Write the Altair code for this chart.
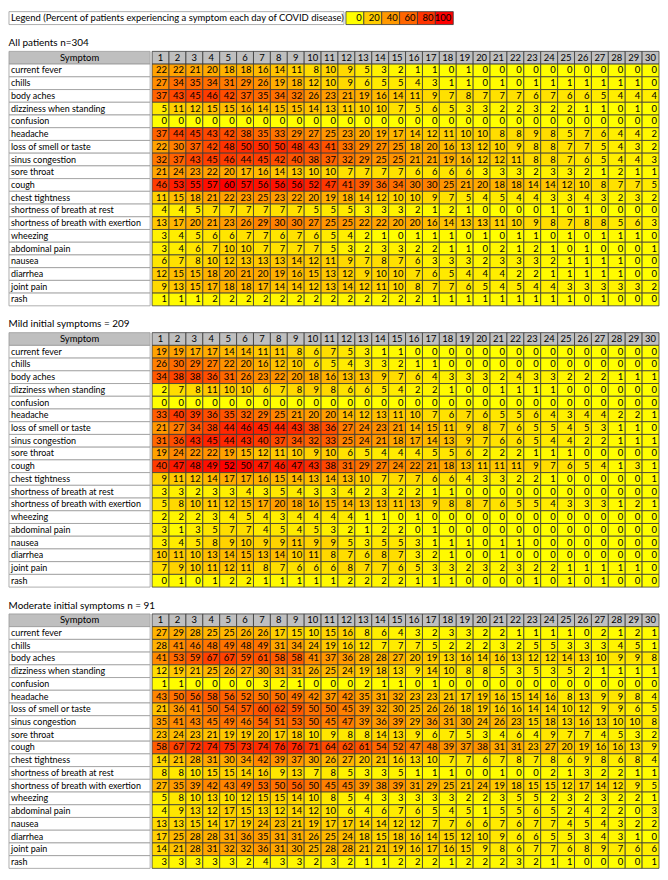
import altair as alt
import pandas as pd

legend_text = "Legend (Percent of patients experiencing a symptom each day of COVID disease)"
legend_steps = [0, 20, 40, 60, 80, 100]
panel_titles = ["All patients n=304", "Mild initial symptoms = 209", "Moderate initial symptoms n = 91"]
header_label = "Symptom"
days = list(range(1, 31))
symptoms = [
    "current fever", "chills", "body aches", "dizziness when standing", "confusion",
    "headache", "loss of smell or taste", "sinus congestion", "sore throat", "cough",
    "chest tightness", "shortness of breath at rest", "shortness of breath with exertion",
    "wheezing", "abdominal pain", "nausea", "diarrhea", "joint pain", "rash",
]

all_patients = [
    [22, 22, 21, 20, 18, 18, 16, 14, 11, 8, 10, 9, 5, 3, 2, 1, 1, 0, 1, 0, 0, 0, 0, 0, 0, 0, 0, 0, 0, 0],
    [27, 34, 35, 34, 31, 29, 26, 19, 18, 12, 10, 9, 6, 5, 5, 4, 3, 1, 1, 0, 1, 0, 1, 1, 1, 1, 1, 1, 1, 0],
    [37, 43, 45, 46, 42, 37, 35, 34, 32, 26, 23, 21, 19, 16, 14, 11, 9, 7, 8, 7, 7, 7, 6, 7, 6, 6, 5, 4, 4, 4],
    [5, 11, 12, 15, 15, 16, 14, 15, 15, 14, 13, 11, 10, 10, 7, 5, 6, 5, 3, 3, 2, 2, 3, 2, 2, 1, 1, 0, 1, 0],
    [0, 0, 0, 0, 0, 0, 0, 0, 0, 0, 0, 0, 0, 0, 0, 0, 0, 0, 0, 0, 0, 0, 0, 0, 0, 0, 0, 0, 0, 0],
    [37, 44, 45, 43, 42, 38, 35, 33, 29, 27, 25, 23, 20, 19, 17, 14, 12, 11, 10, 10, 8, 8, 9, 8, 5, 7, 6, 4, 4, 2],
    [22, 30, 37, 42, 48, 50, 50, 50, 48, 43, 41, 33, 29, 27, 25, 18, 20, 16, 13, 12, 10, 9, 8, 8, 7, 7, 5, 4, 3, 2],
    [32, 37, 43, 45, 46, 44, 45, 42, 40, 38, 37, 32, 29, 25, 25, 21, 21, 19, 16, 12, 12, 11, 8, 8, 7, 6, 5, 4, 4, 3],
    [21, 24, 23, 22, 20, 17, 16, 14, 13, 10, 10, 7, 7, 7, 7, 6, 6, 6, 6, 3, 3, 3, 2, 3, 3, 2, 1, 2, 1, 1],
    [46, 53, 55, 57, 60, 57, 56, 56, 56, 52, 47, 41, 39, 36, 34, 30, 30, 25, 21, 20, 18, 18, 14, 14, 12, 10, 8, 7, 7, 5],
    [11, 15, 18, 21, 22, 23, 25, 23, 22, 20, 19, 18, 14, 12, 10, 10, 9, 7, 5, 4, 5, 4, 4, 3, 3, 4, 3, 2, 3, 2],
    [4, 4, 5, 7, 7, 7, 7, 7, 7, 5, 5, 5, 3, 3, 3, 2, 1, 2, 1, 0, 0, 0, 0, 1, 0, 1, 0, 0, 0, 0],
    [13, 17, 20, 21, 23, 26, 29, 30, 30, 27, 25, 25, 22, 22, 20, 20, 16, 14, 13, 13, 11, 10, 9, 8, 7, 8, 8, 5, 6, 3],
    [3, 4, 5, 6, 6, 7, 7, 6, 7, 6, 5, 4, 2, 1, 0, 1, 1, 1, 0, 1, 0, 1, 1, 0, 1, 0, 1, 1, 1, 0],
    [3, 4, 6, 7, 10, 10, 7, 7, 7, 7, 5, 3, 2, 3, 3, 2, 2, 1, 1, 0, 2, 1, 2, 1, 0, 1, 0, 0, 0, 1],
    [6, 7, 8, 10, 12, 13, 13, 13, 14, 12, 11, 9, 7, 8, 7, 6, 3, 3, 3, 2, 3, 3, 3, 2, 1, 1, 1, 1, 0, 0],
    [12, 15, 15, 18, 20, 21, 20, 19, 16, 15, 13, 12, 9, 10, 10, 7, 6, 5, 4, 4, 4, 2, 2, 1, 1, 1, 1, 1, 0, 0],
    [9, 13, 15, 17, 18, 18, 17, 14, 14, 12, 13, 14, 12, 11, 10, 8, 7, 7, 6, 5, 4, 5, 4, 4, 3, 3, 3, 3, 3, 2],
    [1, 1, 1, 2, 2, 2, 2, 2, 2, 2, 2, 2, 2, 2, 2, 2, 1, 1, 1, 1, 1, 1, 1, 1, 1, 0, 1, 0, 0, 0],
]

mild = [
    [19, 19, 17, 17, 14, 14, 11, 11, 8, 6, 7, 5, 3, 1, 1, 0, 0, 0, 0, 0, 0, 0, 0, 0, 0, 0, 0, 0, 0, 0],
    [26, 30, 29, 27, 22, 20, 16, 12, 10, 6, 5, 4, 3, 3, 2, 1, 1, 0, 0, 0, 0, 0, 0, 0, 0, 0, 0, 0, 0, 0],
    [34, 38, 38, 36, 31, 26, 23, 22, 20, 18, 16, 13, 13, 9, 7, 6, 4, 3, 3, 3, 2, 4, 3, 3, 2, 2, 2, 1, 1, 1],
    [2, 7, 8, 11, 10, 10, 6, 7, 8, 9, 8, 6, 6, 5, 4, 2, 2, 1, 0, 0, 1, 1, 1, 1, 0, 0, 0, 0, 0, 0],
    [0, 0, 0, 0, 0, 0, 0, 0, 0, 0, 0, 0, 0, 0, 0, 0, 0, 0, 0, 0, 0, 0, 0, 0, 0, 0, 0, 0, 0, 0],
    [33, 40, 39, 36, 35, 32, 29, 25, 21, 20, 20, 14, 12, 13, 11, 10, 7, 6, 7, 6, 5, 5, 6, 4, 3, 4, 4, 2, 2, 1],
    [21, 27, 34, 38, 44, 46, 45, 44, 43, 38, 36, 27, 24, 23, 21, 14, 15, 11, 9, 8, 7, 6, 5, 5, 4, 5, 3, 1, 1, 0],
    [31, 36, 43, 45, 44, 43, 40, 37, 34, 32, 33, 25, 24, 21, 18, 17, 14, 13, 9, 7, 6, 6, 5, 4, 4, 2, 2, 1, 1, 1],
    [19, 24, 22, 22, 19, 15, 12, 11, 10, 9, 10, 6, 5, 4, 4, 4, 5, 5, 6, 2, 2, 2, 1, 1, 1, 0, 0, 0, 0, 0],
    [40, 47, 48, 49, 52, 50, 47, 46, 47, 43, 38, 31, 29, 27, 24, 22, 21, 18, 13, 11, 11, 11, 9, 7, 6, 5, 4, 1, 3, 1],
    [9, 11, 12, 14, 17, 17, 16, 15, 14, 13, 14, 13, 10, 7, 7, 7, 6, 6, 4, 3, 3, 2, 2, 1, 0, 0, 0, 0, 0, 1],
    [3, 3, 2, 3, 3, 4, 3, 5, 4, 3, 3, 4, 2, 3, 2, 2, 1, 1, 0, 0, 0, 0, 0, 0, 0, 0, 0, 0, 0, 0],
    [5, 8, 10, 11, 12, 15, 17, 20, 18, 16, 15, 14, 13, 13, 11, 13, 9, 8, 8, 7, 6, 5, 5, 4, 3, 3, 3, 1, 2, 1],
    [2, 2, 2, 3, 4, 5, 4, 3, 4, 4, 4, 4, 1, 1, 0, 1, 0, 0, 0, 0, 0, 0, 0, 0, 0, 0, 0, 0, 0, 0],
    [3, 1, 3, 5, 7, 7, 4, 5, 4, 5, 3, 2, 1, 2, 2, 0, 1, 0, 0, 0, 0, 0, 0, 0, 0, 0, 0, 0, 0, 0],
    [3, 4, 5, 8, 9, 10, 9, 9, 11, 9, 9, 5, 3, 5, 5, 3, 1, 1, 1, 0, 1, 1, 0, 0, 0, 0, 0, 0, 0, 0],
    [10, 11, 10, 13, 14, 15, 13, 14, 10, 11, 8, 7, 6, 8, 7, 3, 2, 1, 0, 0, 1, 0, 0, 0, 0, 0, 0, 0, 0, 0],
    [7, 9, 10, 11, 12, 11, 8, 7, 6, 6, 6, 8, 7, 7, 6, 5, 3, 3, 2, 3, 2, 3, 2, 2, 1, 1, 1, 1, 1, 0],
    [0, 1, 0, 1, 2, 2, 1, 1, 1, 1, 1, 2, 2, 2, 2, 1, 1, 1, 0, 0, 0, 0, 1, 0, 1, 0, 1, 0, 0, 0],
]

moderate = [
    [27, 29, 28, 25, 25, 26, 26, 17, 15, 10, 15, 16, 8, 6, 4, 3, 2, 3, 3, 2, 2, 1, 1, 1, 1, 0, 2, 1, 2, 1],
    [28, 41, 46, 48, 49, 48, 49, 31, 34, 24, 19, 16, 12, 7, 7, 7, 5, 2, 2, 2, 3, 2, 5, 5, 3, 3, 3, 4, 5, 1],
    [41, 53, 59, 67, 67, 59, 61, 58, 58, 41, 37, 36, 28, 28, 27, 20, 19, 13, 16, 14, 16, 13, 12, 12, 14, 13, 10, 9, 9, 8],
    [12, 19, 21, 25, 26, 27, 30, 31, 31, 26, 25, 24, 19, 18, 13, 9, 14, 10, 8, 8, 5, 3, 5, 3, 5, 2, 1, 1, 1, 1],
    [1, 1, 0, 0, 0, 0, 3, 2, 1, 0, 0, 0, 2, 1, 1, 0, 1, 0, 0, 0, 0, 0, 0, 0, 0, 0, 0, 0, 0, 0],
    [43, 50, 56, 58, 56, 52, 50, 50, 49, 42, 37, 42, 35, 31, 32, 23, 23, 21, 17, 19, 16, 15, 14, 16, 8, 13, 9, 9, 8, 4],
    [21, 36, 41, 50, 54, 57, 60, 62, 59, 50, 50, 45, 39, 32, 30, 25, 26, 26, 18, 19, 16, 16, 14, 14, 10, 12, 9, 9, 6, 5],
    [35, 41, 43, 45, 49, 46, 54, 51, 53, 50, 45, 47, 39, 36, 39, 29, 36, 31, 30, 24, 26, 23, 15, 18, 13, 16, 13, 10, 10, 8],
    [23, 24, 23, 21, 19, 19, 20, 17, 18, 10, 9, 8, 8, 14, 13, 9, 6, 7, 5, 3, 4, 6, 4, 9, 7, 7, 4, 5, 3, 2],
    [58, 67, 72, 74, 75, 73, 74, 76, 76, 71, 64, 62, 61, 54, 52, 47, 48, 39, 37, 38, 31, 31, 23, 27, 20, 19, 16, 16, 13, 9],
    [14, 21, 28, 31, 30, 34, 42, 39, 37, 30, 26, 27, 20, 21, 16, 13, 10, 7, 7, 6, 7, 8, 7, 8, 6, 9, 8, 6, 8, 4],
    [8, 8, 10, 15, 15, 14, 16, 9, 13, 7, 8, 5, 3, 3, 5, 1, 1, 1, 0, 0, 1, 0, 0, 2, 1, 3, 2, 2, 1, 1],
    [27, 35, 39, 42, 43, 49, 53, 50, 56, 50, 45, 45, 39, 38, 39, 31, 29, 25, 21, 24, 19, 18, 15, 15, 12, 17, 14, 12, 9, 5],
    [5, 8, 10, 13, 10, 12, 15, 15, 14, 10, 8, 5, 4, 3, 3, 3, 3, 3, 2, 2, 3, 5, 5, 2, 3, 2, 3, 2, 2, 1],
    [4, 9, 13, 12, 17, 15, 13, 12, 14, 12, 10, 6, 4, 6, 7, 6, 5, 4, 5, 1, 5, 5, 6, 5, 2, 4, 2, 2, 0, 3],
    [13, 13, 15, 14, 17, 19, 24, 23, 21, 19, 17, 17, 14, 14, 12, 12, 7, 7, 6, 6, 7, 6, 7, 7, 4, 5, 4, 3, 2, 2],
    [17, 25, 28, 28, 31, 36, 35, 31, 31, 26, 25, 24, 18, 15, 18, 16, 14, 15, 12, 10, 9, 6, 6, 5, 5, 3, 4, 3, 1, 0],
    [14, 21, 28, 31, 32, 32, 36, 31, 30, 25, 28, 28, 21, 21, 19, 16, 17, 16, 15, 9, 8, 6, 7, 7, 6, 8, 9, 7, 6, 6],
    [3, 3, 3, 3, 3, 2, 4, 3, 3, 2, 3, 2, 1, 1, 2, 2, 2, 1, 2, 2, 2, 3, 2, 1, 1, 0, 0, 0, 0, 1],
]

FONT = "Lato"
FS = 9.5
LFS = 9
SYM_W = 142
DAY_W = 510
PANEL_H = 256
HEAD_FILL = "#bfbfbf"
GRID = "#3a3a3a"
LIGHT = "#9a9a9a"

row_keys = [header_label] + symptoms
day_keys = [str(d) for d in days]


def make_panel(values, title, red_at=None):
    recs = []
    for s, vals in zip(symptoms, values):
        for d, v in zip(day_keys, vals):
            recs.append({"row": s, "day": d, "value": v})
    cells = pd.DataFrame(recs)
    vmax = red_at if red_at is not None else int(cells["value"].max())
    heads = pd.DataFrame({"row": [header_label] * len(day_keys), "day": day_keys})
    labels = pd.DataFrame({"row": row_keys, "head": [1] + [0] * len(symptoms)})

    yenc = alt.Y("row:N", scale=alt.Scale(domain=row_keys, paddingInner=0, paddingOuter=0), axis=None)
    xscale = alt.Scale(domain=day_keys, paddingInner=0, paddingOuter=0)

    lbase = alt.Chart(labels).encode(y=yenc)
    lrect = lbase.mark_rect(stroke=LIGHT, strokeWidth=0.8).encode(
        x=alt.value(0), x2=alt.value(SYM_W),
        fill=alt.condition("datum.head == 1", alt.value(HEAD_FILL), alt.value("white")),
    )
    ltext = lbase.transform_filter("datum.head == 0").mark_text(
        align="left", baseline="middle", font=FONT, fontSize=LFS, color="black"
    ).encode(x=alt.value(2), text="row:N")
    lhead = lbase.transform_filter("datum.head == 1").mark_text(
        align="center", baseline="middle", font=FONT, fontSize=FS, color="black"
    ).encode(x=alt.value(SYM_W / 2), text="row:N")
    left = alt.layer(lrect, ltext, lhead).properties(width=SYM_W, height=PANEL_H)

    hbase = alt.Chart(heads).encode(x=alt.X("day:N", scale=xscale, axis=None), y=yenc)
    hrect = hbase.mark_rect(fill=HEAD_FILL, stroke=GRID, strokeWidth=0.8)
    htext = hbase.mark_text(align="center", baseline="middle", font=FONT, fontSize=FS, color="black").encode(
        text="day:N"
    )
    cbase = alt.Chart(cells)
    crect = cbase.mark_rect(stroke=GRID, strokeWidth=0.8).encode(
        x=alt.X("day:N", scale=xscale, axis=None),
        y=yenc,
        fill=alt.Fill(
            "value:Q",
            scale=alt.Scale(domain=[0, vmax], range=["#ffff00", "#ff0000"], interpolate="rgb", clamp=True),
            legend=None,
        ),
    )
    ctext = cbase.mark_text(align="right", baseline="middle", dx=-2, font=FONT, fontSize=FS, color="black").encode(
        x=alt.X("day:N", scale=xscale, axis=None, bandPosition=1),
        y=yenc,
        text="value:Q",
    )
    right = alt.layer(hrect, htext, crect, ctext).properties(width=DAY_W, height=PANEL_H).resolve_scale(
        fill="independent"
    )
    return alt.hconcat(
        left, right, spacing=0,
        title=alt.TitleParams(title, anchor="start", font=FONT, fontSize=FS + 0.5, fontWeight="normal",
                              color="black", offset=3),
    ).resolve_scale(fill="independent")


# legend row
LEG_W = 337
LEG_H = 13
ltab = pd.DataFrame({"label": [legend_text]})
lbox = alt.Chart(ltab).mark_rect(fill="white", stroke=LIGHT, strokeWidth=0.8).encode(
    x=alt.value(0), x2=alt.value(LEG_W), y=alt.value(0), y2=alt.value(LEG_H)
)
ltxt = alt.Chart(ltab).mark_text(align="left", baseline="middle", font=FONT, fontSize=FS, color="black").encode(
    x=alt.value(2), y=alt.value(LEG_H / 2), text="label:N"
)
legend_box = alt.layer(lbox, ltxt).properties(width=LEG_W, height=LEG_H)

steps = pd.DataFrame({"step": legend_steps, "key": [str(s) for s in legend_steps]})
sx = alt.Scale(domain=[str(s) for s in legend_steps], paddingInner=0, paddingOuter=0)
srect = alt.Chart(steps).mark_rect(stroke=GRID, strokeWidth=0.8).encode(
    x=alt.X("key:N", scale=sx, axis=None),
    fill=alt.Fill("step:Q", scale=alt.Scale(domain=[0, 100], range=["#ffff00", "#ff0000"], interpolate="rgb"),
                  legend=None),
)
stext = alt.Chart(steps).mark_text(align="right", baseline="middle", dx=-2, font=FONT, fontSize=FS,
                                   color="black").encode(
    x=alt.X("key:N", scale=sx, axis=None, bandPosition=1), text="key:N"
)
legend_cells = alt.layer(srect, stext).properties(width=108, height=LEG_H)
legend = alt.hconcat(legend_box, legend_cells, spacing=0)

chart = alt.vconcat(
    legend,
    make_panel(all_patients, panel_titles[0]),
    make_panel(mild, panel_titles[1]),
    make_panel(moderate, panel_titles[2], red_at=90),
    spacing=12,
).resolve_scale(fill="independent").properties(padding=0).configure_view(stroke=None)

chart.save("out.html", embed_options={"renderer": "svg", "actions": False})
